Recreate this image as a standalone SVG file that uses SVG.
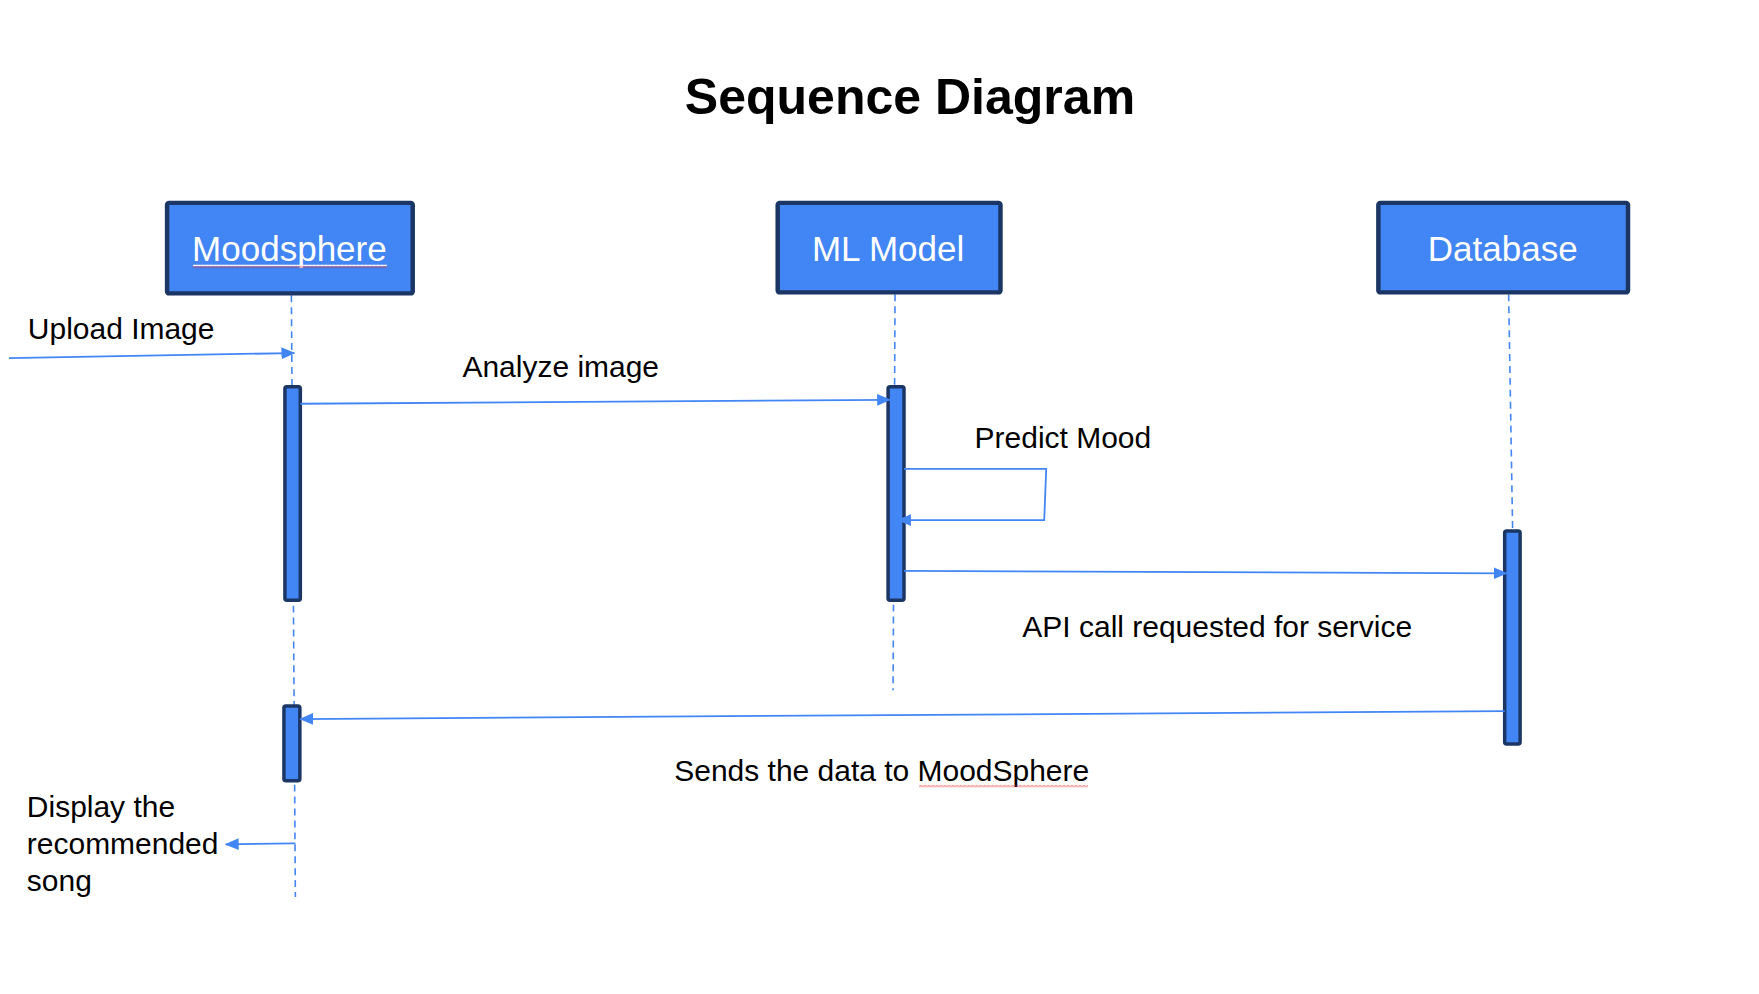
<svg xmlns="http://www.w3.org/2000/svg" width="1759" height="994" viewBox="0 0 1759 994">
  <style>
    .box { fill: #4285f4; stroke: #1b3664; stroke-width: 4.5; }
    .bar { fill: #4285f4; stroke: #1b3664; stroke-width: 3.5; }
    .life { fill: none; stroke: #4285f4; stroke-width: 1.6; stroke-dasharray: 7 5; }
    .msg { fill: none; stroke: #4285f4; stroke-width: 1.8; }
    .title { font-family: "Liberation Sans", Arial, sans-serif; font-size: 50.3px; font-weight: bold; fill: #000; }
    .head { font-family: "Liberation Sans", Arial, sans-serif; font-size: 35.2px; fill: #fff; }
    .lbl { font-family: "Liberation Sans", Arial, sans-serif; font-size: 30.15px; fill: #000; }
  </style>
  <defs>
    <marker id="arrow" markerUnits="userSpaceOnUse" markerWidth="14" markerHeight="14" viewBox="0 0 14 14" refX="13" refY="7" orient="auto">
      <path d="M0,1 L14,7 L0,13 Z" fill="#4285f4"/>
    </marker>
    <pattern id="squig" patternUnits="userSpaceOnUse" width="4" height="3" x="0" y="0">
      <path d="M0,2.5 L2,0.5 L4,2.5" fill="none" stroke="#e02020" stroke-width="0.9"/>
    </pattern>
  </defs>
  <rect width="1759" height="994" fill="#fff"/>

  <g transform="scale(0.9945)">
    <text class="title" x="915" y="115" text-anchor="middle">Sequence Diagram</text>

    <g id="lifelines">
      <path class="life" d="M293,297 L297,902"/>
      <path class="life" d="M900,296 L898,694"/>
      <path class="life" d="M1517,296 L1521,534"/>
    </g>

    <g id="node-moodsphere">
      <rect class="box" x="168" y="204" width="247" height="91" rx="2"/>
      <text class="head" x="291" y="262" text-anchor="middle">Moodsphere</text>
      <line x1="194" y1="267" x2="389" y2="267" stroke="#ffffff" stroke-width="1.5"/>
      <rect x="194" y="267" width="195" height="3" fill="url(#squig)"/>
    </g>
    <g id="node-mlmodel">
      <rect class="box" x="782" y="204" width="224" height="90" rx="2"/>
      <text class="head" x="893" y="262" text-anchor="middle">ML Model</text>
    </g>
    <g id="node-database">
      <rect class="box" x="1386" y="204" width="251" height="90" rx="2"/>
      <text class="head" x="1511" y="262" text-anchor="middle">Database</text>
    </g>

    <g id="activations">
      <rect class="bar" x="286.5" y="389" width="15.5" height="214.5" rx="2"/>
      <rect class="bar" x="285.5" y="710" width="16" height="75" rx="2"/>
      <rect class="bar" x="893" y="389" width="16" height="214.5" rx="2"/>
      <rect class="bar" x="1513" y="534" width="15.5" height="214" rx="2"/>
    </g>

    <g id="connectors">
      <path class="msg" d="M9,360 L296,355" marker-end="url(#arrow)"/>
      <path class="msg" d="M302,406 L895,402" marker-end="url(#arrow)"/>
      <path class="msg" d="M909,471.5 L1052,471.5 L1050,523 L903,523" marker-end="url(#arrow)"/>
      <path class="msg" d="M909,574 L1515,576.5" marker-end="url(#arrow)"/>
      <path class="msg" d="M1513,715 L302,723" marker-end="url(#arrow)"/>
      <path class="msg" d="M297,848 L227,849" marker-end="url(#arrow)"/>
    </g>

    <g id="labels">
      <text class="lbl" x="28" y="341">Upload Image</text>
      <text class="lbl" x="465" y="379">Analyze image</text>
      <text class="lbl" x="980" y="450">Predict Mood</text>
      <text class="lbl" x="1028" y="641">API call requested for service</text>
      <text class="lbl" x="678" y="785">Sends the data to MoodSphere</text>
      <rect x="924" y="789" width="170" height="3" fill="url(#squig)"/>
      <text class="lbl" x="27" y="822">Display the</text>
      <text class="lbl" x="27" y="859">recommended</text>
      <text class="lbl" x="27" y="896">song</text>
    </g>
  </g>
</svg>
